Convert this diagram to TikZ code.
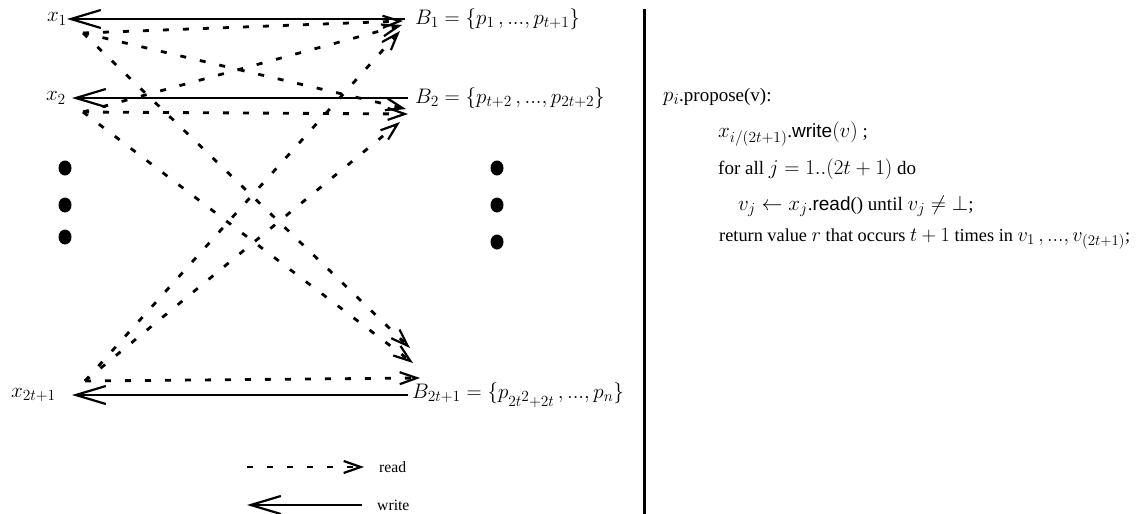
\RequirePackage{fix-cm}
\documentclass[tikz,border=0pt]{standalone}
\usepackage[no-math]{fontspec}
\setmainfont{Liberation Serif}
\setsansfont{Liberation Sans}
\DeclareMathSizes{19}{21}{15.5}{12}
\DeclareMathSizes{18.3}{20.2}{14.9}{11.5}
\usetikzlibrary{arrows.meta}
\begin{document}
\begin{tikzpicture}[x=1pt,y=-1pt,
  wline/.style={line width=2.4pt,-{Straight Barb[length=30pt,width=18pt,line width=2.2pt]}},
  rline/.style={line width=2.8pt,dash pattern=on 6pt off 14pt,-{Straight Barb[length=17pt,width=12pt,line width=2.2pt]}},
  lab/.style={inner sep=0pt,font=\fontsize{19}{23}\selectfont},
  code/.style={anchor=west,inner sep=0pt,font=\fontsize{19}{23}\selectfont},
  leg/.style={anchor=west,inner sep=0pt,font=\fontsize{15.7}{18}\selectfont},
  bigdot/.style={fill=black}]
\useasboundingbox (0,0) rectangle (1141,514);
% register labels
\node[lab,anchor=east] (x1) at (67,19) {$x_1$};
\node[lab,anchor=east,inner xsep=6pt] (x2) at (72,98) {$x_2$};
\node[lab,anchor=east,inner xsep=16pt] (x3) at (72,395) {$x_{2t+1}$};
\node[lab,anchor=west,inner xsep=10pt] (B1) at (405,19) {$B_1 = \{p_1\,, ..., p_{t+1}\}$};
\node[lab,anchor=west,inner xsep=7pt] (B2) at (408,98) {$B_2 = \{p_{t+2}\,, ..., p_{2t+2}\}$};
\node[lab,anchor=west,inner xsep=4pt] (B3) at (408,395) {$B_{2t+1} = \{p_{2t\raisebox{5pt}{$\scriptstyle 2$}+2t}\,, ..., p_n\}$};
% write arrows
\draw[wline] (B1.west) -- (x1.east);
\draw[wline] (B2.west) -- (x2.east);
\draw[wline] (B3.west) -- (x3.east);
% read arrows
\coordinate (s1) at (83,33);
\coordinate (s2) at (83,112);
\coordinate (s3) at (85,381);
\coordinate (t11) at (403,21);
\coordinate (t21) at (402,25);
\coordinate (t31) at (400,31);
\coordinate (t12) at (406,109);
\coordinate (t22) at (408,114);
\coordinate (t32) at (400,122);
\coordinate (t13) at (410,348);
\coordinate (t23) at (413,363);
\coordinate (t33) at (420,378);
\draw[rline] (s1) -- (t11);
\draw[rline] (s1) -- (t12);
\draw[rline] (s1) -- (t13);
\draw[rline] (s2) -- (t21);
\draw[rline] (s2) -- (t22);
\draw[rline] (s2) -- (t23);
\draw[rline] (s3) -- (t31);
\draw[rline] (s3) -- (t32);
\draw[rline] (s3) -- (t33);
% ellipsis dots
\fill[bigdot] (65,168) ellipse [x radius=6.5pt, y radius=7.5pt];
\fill[bigdot] (65,205) ellipse [x radius=6.5pt, y radius=7.5pt];
\fill[bigdot] (65,237) ellipse [x radius=6.5pt, y radius=7.5pt];
\fill[bigdot] (497,168) ellipse [x radius=6.5pt, y radius=7.5pt];
\fill[bigdot] (497,205) ellipse [x radius=6.5pt, y radius=7.5pt];
\fill[bigdot] (497,242) ellipse [x radius=6.5pt, y radius=7.5pt];
% separator
\draw[line width=3pt] (644,9) -- (644,514);
% code
\node[code] (c1) at (663,97) {$p_i$.propose(v):};
\node[code] (c2) at (718,134) {$x_{i/(2t+1)}$.\textsf{write}$(v)$ ;};
\node[code] (c3) at (718,169) {for all $j = 1..(2t+1)$ do};
\node[code] (c4) at (738,206) {$v_j \leftarrow x_j$.\textsf{read}() until $v_j \neq \bot$;};
\node[code,font=\fontsize{18.3}{22}\selectfont] (c5) at (719,239) {return value $r$ that occurs $t+1$ times in $v_1\,, ..., v_{(2t+1)}$;};
% legend
\coordinate (lr0) at (247,467);
\coordinate (lw0) at (247,505);
\node[leg,inner xsep=15pt] (lread) at (364,467) {read};
\node[leg,inner xsep=15pt] (lwrite) at (362,505) {write};
\draw[rline] (lr0) -- (lread.west);
\draw[wline] (lwrite.west) -- (lw0);
\end{tikzpicture}
\end{document}
